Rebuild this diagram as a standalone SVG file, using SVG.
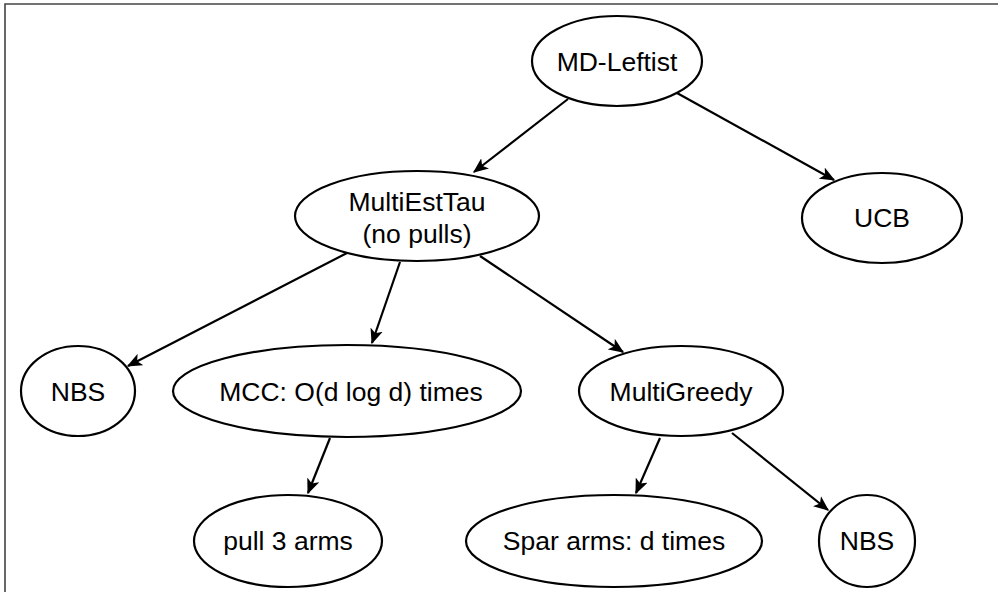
<svg xmlns="http://www.w3.org/2000/svg" width="998" height="592" viewBox="0 0 998 592">
<defs>
<style>
.n ellipse{fill:#fff;stroke:#000;stroke-width:2.2}
.n text{font-family:"Liberation Sans",Arial,sans-serif;font-size:26.5px;fill:#000;text-anchor:middle}
.e line{stroke:#000;stroke-width:2.2;marker-end:url(#ah)}
</style>
<marker id="ah" viewBox="0 0 12 10" refX="11" refY="5" markerWidth="7" markerHeight="6" markerUnits="strokeWidth" orient="auto">
<path d="M0,0 L12,5 L0,10 L3,5 z" fill="#000"/>
</marker>
</defs>
<rect width="998" height="592" fill="#fff"/>
<path d="M5,592 L5,4 L998,4" fill="none" stroke="#444" stroke-width="1.6"/>
<g class="e" id="connectors">
<line x1="568" y1="99" x2="474" y2="172"/>
<line x1="677" y1="93" x2="834" y2="180"/>
<line x1="347" y1="253" x2="128" y2="366"/>
<line x1="400" y1="262" x2="372" y2="343"/>
<line x1="480" y1="256" x2="623" y2="352"/>
<line x1="330" y1="438" x2="308" y2="493"/>
<line x1="660" y1="438" x2="636" y2="493"/>
<line x1="732" y1="433" x2="828" y2="510"/>
</g>
<g class="n" id="md-leftist"><ellipse cx="617" cy="61" rx="85" ry="45"/><text x="617" y="71">MD-Leftist</text></g>
<g class="n" id="multiesttau"><ellipse cx="417" cy="216" rx="122" ry="45"/><text x="417" y="211">MultiEstTau</text><text x="417" y="243">(no pulls)</text></g>
<g class="n" id="ucb"><ellipse cx="882" cy="218" rx="80" ry="45"/><text x="882" y="227">UCB</text></g>
<g class="n" id="nbs1"><ellipse cx="78" cy="391" rx="57" ry="45"/><text x="78" y="401">NBS</text></g>
<g class="n" id="mcc"><ellipse cx="347" cy="391" rx="174" ry="46"/><text x="351" y="401">MCC: O(d log d) times</text></g>
<g class="n" id="multigreedy"><ellipse cx="681" cy="391" rx="102" ry="45"/><text x="681" y="401">MultiGreedy</text></g>
<g class="n" id="pull3"><ellipse cx="288" cy="541" rx="94" ry="46"/><text x="288" y="550">pull 3 arms</text></g>
<g class="n" id="spar"><ellipse cx="614" cy="541" rx="148" ry="46"/><text x="614" y="550">Spar arms: d times</text></g>
<g class="n" id="nbs2"><ellipse cx="867" cy="541" rx="48" ry="46"/><text x="867" y="550">NBS</text></g>
</svg>
